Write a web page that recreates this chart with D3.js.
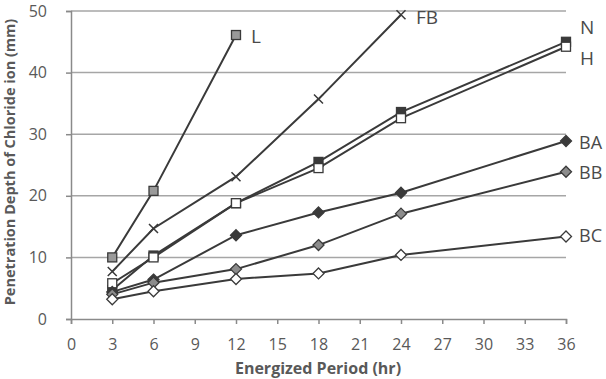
<!DOCTYPE html>
<html><head><meta charset="utf-8">
<script src="https://cdn.jsdelivr.net/npm/d3@7"></script>
<style>body{margin:0;background:#fff}svg{display:block}</style>
</head><body>
<svg id="c" width="606" height="379"></svg>
<script>
const xTicks = [0,3,6,9,12,15,18,21,24,27,30,33,36];
const yTicks = [0,10,20,30,40,50];
const hoursL = [3,6,12];
const hoursFB = [3,6,12,18,24];
const hoursAll = [3,6,12,18,24,36];
const valL  = [10.0, 20.8, 46.1];
const valFB = [7.7, 14.7, 23.1, 35.7, 49.4];
const valN  = [4.7, 10.3, 18.8, 25.5, 33.6, 45.0];
const valH  = [5.8, 10.0, 18.8, 24.5, 32.6, 44.2];
const valBA = [4.4, 6.4, 13.6, 17.3, 20.5, 28.9];
const valBB = [4.0, 5.9, 8.1, 12.0, 17.1, 23.9];
const valBC = [3.2, 4.5, 6.5, 7.4, 10.4, 13.4];
const seriesNames = ["L","FB","N","H","BA","BB","BC"];

const series = [
  {name:"L", x:hoursL, y:valL, marker:"square", fill:"#9a9a9a"},
  {name:"FB", x:hoursFB, y:valFB, marker:"cross", fill:"none"},
  {name:"N", x:hoursAll, y:valN, marker:"square", fill:"#3a3a3a"},
  {name:"H", x:hoursAll, y:valH, marker:"square", fill:"#ffffff"},
  {name:"BA", x:hoursAll, y:valBA, marker:"diamond", fill:"#3a3a3a"},
  {name:"BB", x:hoursAll, y:valBB, marker:"diamond", fill:"#8c8c8c"},
  {name:"BC", x:hoursAll, y:valBC, marker:"diamond", fill:"#ffffff"}
];

const svg = d3.select("#c");
const m = {l:71, r:40, t:11, b:60};
const W = 606, H = 379;
const x = d3.scaleLinear().domain([0,36]).range([m.l, W-m.r]);
const y = d3.scaleLinear().domain([0,50]).range([H-m.b, m.t]);

// gridlines
svg.append("g").selectAll("line").data(yTicks.filter(d=>d>0)).join("line")
  .attr("x1", x(0)).attr("x2", x(36))
  .attr("y1", d=>y(d)).attr("y2", d=>y(d))
  .attr("stroke","#a6a6a6").attr("stroke-width",1.5);

const font = "'Open Sans', Lato, sans-serif";
// axes
const xAxis = svg.append("g").attr("transform",`translate(0,${y(0)})`)
  .call(d3.axisBottom(x).tickValues(xTicks).tickSize(5).tickPadding(15));
const yAxis = svg.append("g").attr("transform",`translate(${x(0)},0)`)
  .call(d3.axisLeft(y).tickValues(yTicks).tickSize(5).tickPadding(19));
[xAxis,yAxis].forEach(g=>{
  g.select(".domain").attr("stroke","#8a8a8a").attr("stroke-width",1.5);
  g.selectAll(".tick line").attr("stroke","#8a8a8a").attr("stroke-width",1.5);
  g.selectAll(".tick text").attr("fill","#595959").style("font-family",font).style("font-size","16px");
});

svg.append("text").attr("x",318).attr("y",374)
  .attr("text-anchor","middle").attr("fill","#595959")
  .style("font-family",font).style("font-size","16px").style("font-weight","bold")
  .text("Energized Period (hr)");
svg.append("text").attr("transform",`translate(15,162) rotate(-90)`)
  .attr("text-anchor","middle").attr("fill","#595959")
  .style("font-family",font).style("font-size","14.5px").style("font-weight","bold")
  .text("Penetration Depth of Chloride ion (mm)");

const line = d3.line().x(d=>x(d[0])).y(d=>y(d[1]));
const stroke = "#3a3a3a";
series.forEach(s=>{
  const pts = s.x.map((h,i)=>[h,s.y[i]]);
  svg.append("path").datum(pts).attr("d",line)
    .attr("fill","none").attr("stroke",stroke).attr("stroke-width",2);
});
series.forEach(s=>{
  const pts = s.x.map((h,i)=>[h,s.y[i]]);
  const g = svg.append("g");
  pts.forEach(p=>{
    const cx = x(p[0]), cy = y(p[1]);
    if(s.marker==="square"){
      g.append("rect").attr("x",cx-4.5).attr("y",cy-4.5).attr("width",9).attr("height",9)
        .attr("fill",s.fill).attr("stroke",stroke).attr("stroke-width",1.3);
    } else if(s.marker==="diamond"){
      const r=5.5;
      g.append("path").attr("d",`M${cx},${cy-r}L${cx+r},${cy}L${cx},${cy+r}L${cx-r},${cy}Z`)
        .attr("fill",s.fill).attr("stroke",stroke).attr("stroke-width",1.3);
    } else {
      const r=4.5;
      g.append("path").attr("d",`M${cx-r},${cy-r}L${cx+r},${cy+r}M${cx-r},${cy+r}L${cx+r},${cy-r}`)
        .attr("stroke",stroke).attr("stroke-width",1.5);
    }
  });
});

// labels
const labels = [
  {n:"L", dx:15, dy:1, fs:19},
  {n:"FB", dx:15, dy:2, fs:19},
  {n:"N", dx:14, dy:-15, fs:19},
  {n:"H", dx:14, dy:11, fs:19},
  {n:"BA", dx:13, dy:1, fs:18},
  {n:"BB", dx:13, dy:0, fs:18},
  {n:"BC", dx:13, dy:-1, fs:18}
];
labels.forEach(l=>{
  const s = series.find(d=>d.name===l.n);
  const i = s.x.length-1;
  svg.append("text").attr("x",x(s.x[i])+l.dx).attr("y",y(s.y[i])+l.dy)
    .attr("dominant-baseline","central").attr("fill","#4a4a4a")
    .style("font-family",font).style("font-size",l.fs+"px")
    .text(l.n);
});
</script>
</body></html>
